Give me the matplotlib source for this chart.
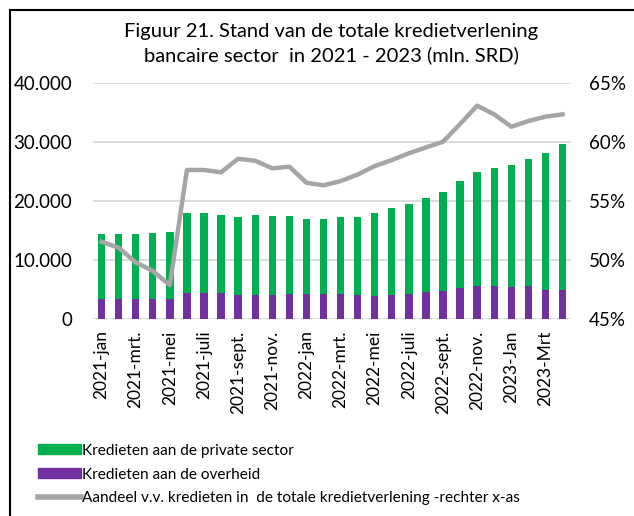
import matplotlib.pyplot as plt
from matplotlib.patches import Patch
from matplotlib.lines import Line2D

plt.rcParams['font.family'] = ['Lato', 'DejaVu Sans']

# Data (mln. SRD), 2021-jan t/m 2023-apr
months = ["2021-jan", "2021-feb", "2021-mrt.", "2021-apr", "2021-mei", "2021-jun",
          "2021-juli", "2021-aug", "2021-sept.", "2021-okt", "2021-nov.", "2021-dec",
          "2022-jan", "2022-feb", "2022-mrt.", "2022-apr", "2022-mei", "2022-jun",
          "2022-juli", "2022-aug", "2022-sept.", "2022-okt", "2022-nov.", "2022-dec",
          "2023-Jan", "2023-feb", "2023-Mrt", "2023-apr"]
totaal = [14440, 14440, 14440, 14660, 14720, 17940, 17940, 17650, 17320, 17600,
          17540, 17430, 16980, 16930, 17300, 17370, 18040, 18890, 19570, 20580,
          21550, 23350, 24880, 25660, 26060, 27080, 28150, 29720]
overheid = [3440, 3440, 3440, 3440, 3440, 4500, 4500, 4500, 4110, 4110,
            4110, 4280, 4280, 4280, 4230, 4060, 3940, 4060, 4280, 4570,
            4790, 5300, 5640, 5580, 5470, 5640, 4960, 4960]
private = [t - o for t, o in zip(totaal, overheid)]
aandeel = [51.57, 51.06, 49.82, 49.09, 47.90, 57.64, 57.64, 57.44, 58.59, 58.42,
           57.78, 57.92, 56.56, 56.34, 56.70, 57.25, 57.97, 58.48, 59.05, 59.55,
           60.03, 61.53, 63.08, 62.35, 61.30, 61.78, 62.15, 62.35]

left_ticks = [0, 10000, 20000, 30000, 40000]
left_labels = ["0", "10.000", "20.000", "30.000", "40.000"]
right_ticks = [45, 50, 55, 60, 65]
right_labels = ["45%", "50%", "55%", "60%", "65%"]

green = "#00B050"
purple = "#7030A0"
grey = "#A5A5A5"

fig = plt.figure(figsize=(6.34, 5.16), dpi=100)
ax = fig.add_axes([0.1467, 0.3812, 0.754, 0.4579])
x = list(range(len(months)))

ax.bar(x, overheid, width=0.43, color=purple, zorder=2)
ax.bar(x, private, width=0.43, bottom=overheid, color=green, zorder=2)
ax.set_xlim(-0.5, len(months) - 0.5)
ax.set_ylim(0, 40000)
ax.set_yticks(left_ticks)
ax.set_yticklabels(left_labels)
ax.grid(axis='y', color="#D9D9D9", linewidth=1.3, zorder=0)
ax.set_axisbelow(True)
for s in ax.spines.values():
    s.set_visible(False)
ax.tick_params(axis='y', length=0, pad=15, labelsize=13.5)
ax.set_xticks(x[::2])
ax.set_xticklabels(months[::2], rotation=90, fontsize=12.5)
ax.tick_params(axis='x', length=0, pad=8)

ax2 = ax.twinx()
ax2.plot(x, aandeel, color=grey, linewidth=3.2, zorder=3)
ax2.set_ylim(45, 65)
ax2.set_yticks(right_ticks)
ax2.set_yticklabels(right_labels)
ax2.tick_params(axis='y', length=0, pad=13, labelsize=13.5)
for s in ax2.spines.values():
    s.set_visible(False)

fig.text(0.522, 0.915, "Figuur 21. Stand van de totale kredietverlening\nbancaire sector  in 2021 - 2023 (mln. SRD)",
         ha='center', va='center', fontsize=14.5, linespacing=1.4)

handles = [Patch(color=green), Patch(color=purple), Line2D([0], [0], color=grey, linewidth=4)]
labels = ["Kredieten aan de private sector", "Kredieten aan de overheid",
          "Aandeel v.v. kredieten in  de totale kredietverlening -rechter x-as"]
fig.legend(handles, labels, loc='upper left', bbox_to_anchor=(0.047, 0.155), frameon=False,
           fontsize=11.1, handlelength=2.8, handleheight=0.6, handletextpad=0.1,
           labelspacing=0.64, borderpad=0)

# border
fig.add_artist(Line2D([0.016, 0.016], [0, 0.981], color='black', linewidth=1.5))
fig.add_artist(Line2D([0.016, 1], [0.981, 0.981], color='black', linewidth=1.5))

fig.savefig("out.png", dpi=100)
